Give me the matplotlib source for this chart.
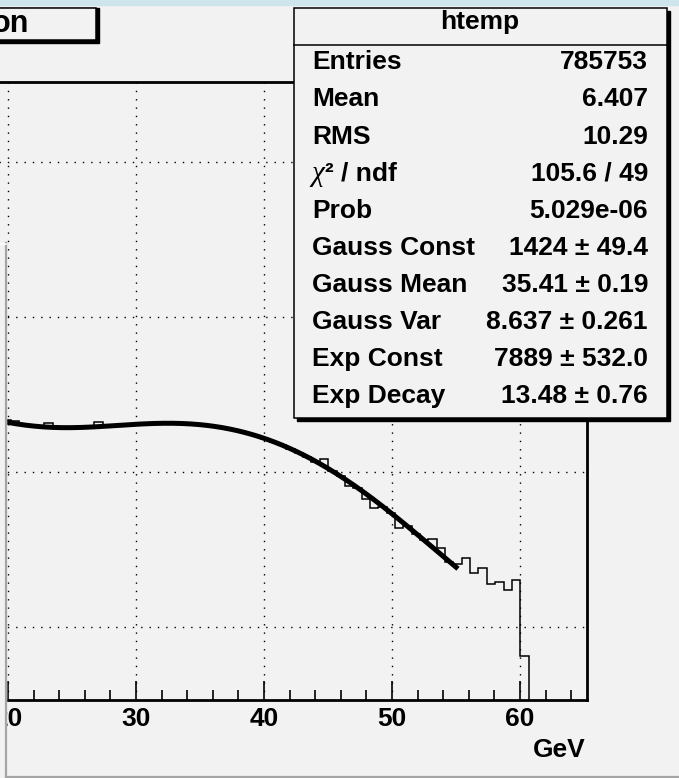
import numpy as np
import matplotlib.pyplot as plt
from matplotlib.patches import Rectangle
from matplotlib.lines import Line2D
from matplotlib.ticker import MultipleLocator, LogLocator

plt.rcParams['font.family'] = ['Liberation Sans', 'DejaVu Sans']
plt.rcParams['font.weight'] = 'bold'

W, H = 679, 778
bg = '#f2f2f2'

# histogram htemp: 100 bins over [0, 65.23], only bins 29..99 are in view
x_max = 65.23
n_bins = 100
first_bin = 29
counts = [2150, 2150, 2110, 2000, 1970, 1945, 2060, 1920, 1915, 1930,
          1925, 1945, 2090, 1960, 1990, 1995, 2020, 2050, 2035, 2055,
          2060, 2045, 2050, 2030, 2010, 1990, 1950, 1920, 1865, 1825,
          1755, 1700, 1625, 1560, 1480, 1410, 1320, 1250, 1160, 1200,
          1005, 935, 810, 790, 670, 583, 596, 545, 433, 446,
          398, 362, 368, 322, 262, 254, 277, 222, 239, 188,
          194, 173, 200, 65, 0, 0, 0, 0, 0, 0, 0]

# fit parameters (from the stats box)
gauss_const, gauss_mean, gauss_var = 1424, 35.41, 8.637
exp_const, exp_decay = 7889, 13.48
fit_lo, fit_hi = 20, 55

stat_labels = ['Entries', 'Mean', 'RMS', 'χ² / ndf', 'Prob', 'Gauss Const',
               'Gauss Mean', 'Gauss Var', 'Exp Const', 'Exp Decay']
stat_values = ['785753', '6.407', '10.29', '105.6 / 49', '5.029e-06',
               '1424 ± 49.4', '35.41 ± 0.19', '8.637 ± 0.261',
               '7889 ± 532.0', '13.48 ± 0.76']


def fx(px):
    return px / W


def fy(py):
    return 1 - py / H


fig = plt.figure(figsize=(W / 100, H / 100), dpi=100, facecolor=bg)

# frame: x=0 sits off the left edge of the picture
ax = fig.add_axes([fx(-248), fy(700), (587 + 248) / W, (700 - 81.7) / H])
ax.set_facecolor(bg)
ax.set_yscale('log')
ax.set_xlim(0, x_max)
ax.set_ylim(10 ** 1.527, 10 ** 5.516)

width = x_max / n_bins
edges = (first_bin + np.arange(len(counts) + 1)) * width
ax.stairs(counts, edges, color='k', lw=1.1, baseline=None, zorder=3)

xs = np.linspace(fit_lo, fit_hi, 300)
fit = exp_const * np.exp(-xs / exp_decay) + \
    gauss_const * np.exp(-0.5 * ((xs - gauss_mean) / gauss_var) ** 2)
ax.plot(xs, fit, color='k', lw=3.6, zorder=4)

ax.xaxis.set_major_locator(MultipleLocator(10))
ax.xaxis.set_minor_locator(MultipleLocator(2))
ax.yaxis.set_major_locator(LogLocator(base=10, numticks=12))
ax.tick_params(axis='x', which='major', direction='in', length=14, width=1.2,
               labelsize=19, pad=5, top=False)
ax.tick_params(axis='x', which='minor', direction='in', length=7, width=1.2,
               top=False)
ax.tick_params(axis='y', which='both', left=False, right=False,
               labelleft=False)
for lab in ax.get_xticklabels():
    lab.set_fontweight('bold')
for s in ax.spines.values():
    s.set_linewidth(2)
ax.set_axisbelow(True)
ax.grid(True, which='major', color='k', linestyle=(0, (1, 5)), linewidth=1.0)

fig.text(fx(586), fy(757), 'GeV', ha='right', va='baseline', fontsize=19,
         fontweight='bold')

# title box (cut off at the left edge)
fig.patches.append(Rectangle((fx(-10), fy(43)), 109 / W, 35 / H,
                             transform=fig.transFigure, color='k', zorder=5))
fig.patches.append(Rectangle((fx(-10), fy(40)), 106 / W, 32 / H,
                             transform=fig.transFigure, fc=bg, ec='k',
                             lw=1.1, zorder=6))
fig.text(fx(29), fy(32), 'on', ha='right', va='baseline', fontsize=22,
         fontweight='bold', zorder=7)

# stats box
fig.patches.append(Rectangle((fx(297), fy(421)), 373 / W, 410 / H,
                             transform=fig.transFigure, color='k', zorder=5))
fig.patches.append(Rectangle((fx(294), fy(418)), 373 / W, 410 / H,
                             transform=fig.transFigure, fc=bg, ec='k',
                             lw=1.1, zorder=6))
fig.lines.append(Line2D([fx(294), fx(667)], [fy(45), fy(45)], color='k',
                        lw=1.1, transform=fig.transFigure, zorder=7))
fig.text(fx(480), fy(29.5), 'htemp', ha='center', va='baseline', fontsize=19,
         fontweight='bold', zorder=7)
for i, (lab, val) in enumerate(zip(stat_labels, stat_values)):
    base = fy(69.3 + 37.1 * i)
    if lab.startswith('χ'):
        fig.text(fx(311), base, 'χ', ha='left', va='baseline', fontsize=21,
                 family='Liberation Serif', style='italic',
                 fontweight='normal', zorder=7)
        fig.text(fx(325), base, lab[1:], ha='left', va='baseline',
                 fontsize=19, fontweight='bold', zorder=7)
    else:
        fig.text(fx(312), base, lab, ha='left', va='baseline', fontsize=19,
                 fontweight='bold', zorder=7)
    fig.text(fx(648), base, val, ha='right', va='baseline', fontsize=19,
             fontweight='bold', zorder=7)

# window edges around the canvas; the strip left of x=6 hides the plot
fig.patches.append(Rectangle((0, 0), fx(6), fy(243),
                             transform=fig.transFigure, color=bg, zorder=8))
fig.patches.append(Rectangle((0, fy(5)), 1, 5 / H, transform=fig.transFigure,
                             color='#cfe5ee', zorder=8))
fig.lines.append(Line2D([fx(6), fx(6)], [fy(243), 0], color='#a5a5a5',
                        lw=1.6, transform=fig.transFigure, zorder=9))
fig.lines.append(Line2D([fx(6), 1], [fy(776.5), fy(776.5)], color='#a5a5a5',
                        lw=1.6, transform=fig.transFigure, zorder=9))
fig.lines.append(Line2D([0, fx(6)], [fy(244), fy(244)], color='white',
                        lw=1.2, transform=fig.transFigure, zorder=9))

fig.savefig('out.png', dpi=100, facecolor=bg)
